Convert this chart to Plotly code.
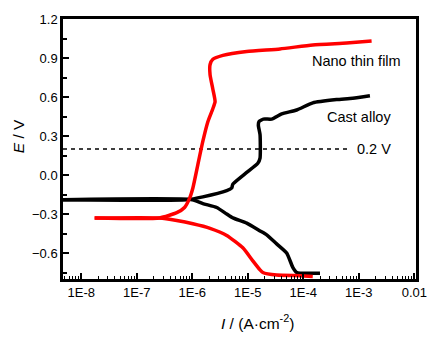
import plotly.graph_objects as go

# ---- data (log10 of current density in A/cm^2, potential in V) ----
cast_anodic_logI = [-8.33, -6.10, -5.81, -5.38, -5.29, -5.27, -5.02, -4.82, -4.78, -4.78, -4.81, -4.80,
                    -4.72, -4.57, -4.39, -4.12, -3.83, -3.40, -3.11, -2.80]
cast_anodic_E = [-0.19, -0.19, -0.168, -0.12, -0.10, -0.07, 0.02, 0.09, 0.13, 0.31, 0.38, 0.41,
                 0.43, 0.43, 0.47, 0.50, 0.555, 0.58, 0.59, 0.61]

cast_cathodic_logI = [-8.33, -6.00, -5.81, -5.56, -5.38, -5.27, -5.02, -4.78, -4.66, -4.48, -4.30,
                      -4.19, -4.12, -4.06, -3.70]
cast_cathodic_E = [-0.19, -0.19, -0.22, -0.25, -0.30, -0.33, -0.37, -0.43, -0.46, -0.53, -0.60,
                   -0.71, -0.75, -0.755, -0.755]

film_anodic_logI = [-7.76, -6.59, -6.28, -6.14, -6.05, -5.99, -5.90, -5.81, -5.72, -5.63, -5.59,
                    -5.63, -5.68, -5.68, -5.63, -5.45, -5.02, -4.42, -3.83, -3.22, -2.77]
film_anodic_E = [-0.33, -0.33, -0.29, -0.25, -0.18, -0.10, 0.08, 0.26, 0.41, 0.51, 0.565,
                 0.66, 0.77, 0.85, 0.89, 0.92, 0.95, 0.97, 1.00, 1.015, 1.03]

film_cathodic_logI = [-7.76, -6.59, -6.28, -5.99, -5.68, -5.38, -5.09, -4.91, -4.78, -4.73, -4.48,
                      -4.06, -3.83]
film_cathodic_E = [-0.33, -0.33, -0.35, -0.375, -0.41, -0.465, -0.56, -0.66, -0.73, -0.75, -0.77,
                   -0.775, -0.78]

ref_logI = [-8.33, -3.20]
ref_E = [0.2, 0.2]

x_tick_exps = [-8, -7, -6, -5, -4, -3, -2]
x_tick_text = ["1E-8", "1E-7", "1E-6", "1E-5", "1E-4", "1E-3", "0.01"]

FONT = "Arial, Liberation Sans, sans-serif"


def lin(v):
    return [10 ** a for a in v]


fig = go.Figure()
fig.add_trace(go.Scatter(x=lin(ref_logI), y=ref_E, mode="lines",
                         line=dict(color="black", width=1.3, dash="4px,4px"), showlegend=False))
for lx, ly, col in [(cast_anodic_logI, cast_anodic_E, "black"),
                    (cast_cathodic_logI, cast_cathodic_E, "black"),
                    (film_cathodic_logI, film_cathodic_E, "#ff0000"),
                    (film_anodic_logI, film_anodic_E, "#ff0000")]:
    fig.add_trace(go.Scatter(x=lin(lx), y=ly, mode="lines",
                             line=dict(color=col, width=3.5, shape="spline", smoothing=0.5),
                             showlegend=False))

minor_vals = [m * 10 ** e for e in range(-9, -1) for m in range(2, 10)]

fig.update_xaxes(type="log", range=[-8.33, -1.97],
                 tickvals=[10 ** e for e in x_tick_exps], ticktext=x_tick_text,
                 ticks="inside", ticklen=6, tickwidth=1.5, tickcolor="black",
                 minor=dict(tickvals=minor_vals, ticks="inside", ticklen=3, tickwidth=1, tickcolor="black"),
                 showline=True, linecolor="black", linewidth=2.5, mirror=True,
                 showgrid=False, zeroline=False,
                 tickfont=dict(family=FONT, size=13, color="black"))
fig.update_yaxes(range=[-0.8, 1.2], tick0=-0.6, dtick=0.3, tickformat=".1f",
                 ticks="inside", ticklen=6, tickwidth=1.5, tickcolor="black",
                 minor=dict(dtick=0.15, tick0=-0.75, ticks="inside", ticklen=4, tickwidth=1.5,
                            tickcolor="black", showgrid=False),
                 showline=True, linecolor="black", linewidth=2.5, mirror=True,
                 showgrid=False, zeroline=False,
                 tickfont=dict(family=FONT, size=13, color="black"))

ann_font = dict(family=FONT, size=14.5, color="black")
fig.add_annotation(x=-3.04, y=0.88, xref="x", yref="y", text="Nano thin film",
                   showarrow=False, font=ann_font, xanchor="center", yanchor="middle")
fig.add_annotation(x=-3.0, y=0.45, xref="x", yref="y", text="Cast alloy",
                   showarrow=False, font=ann_font, xanchor="center", yanchor="middle")
fig.add_annotation(x=-2.73, y=0.2, xref="x", yref="y", text="0.2 V",
                   showarrow=False, font=ann_font, xanchor="center", yanchor="middle")
fig.add_annotation(x=0.552, y=-0.164, xref="paper", yref="paper",
                   text="<i>I</i> / (A·cm<sup>-2</sup>)", showarrow=False,
                   xanchor="center", yanchor="middle",
                   font=dict(family=FONT, size=15.5, color="black"))
fig.add_annotation(x=-0.127, y=0.55, xref="paper", yref="paper", text="<i>E</i> / V",
                   textangle=-90, showarrow=False, xanchor="center", yanchor="middle",
                   font=dict(family=FONT, size=15.5, color="black"))

fig.update_layout(width=446, height=340, margin=dict(l=63, r=30, t=17, b=61),
                  plot_bgcolor="white", paper_bgcolor="white", showlegend=False)

fig.write_html("out.html")
